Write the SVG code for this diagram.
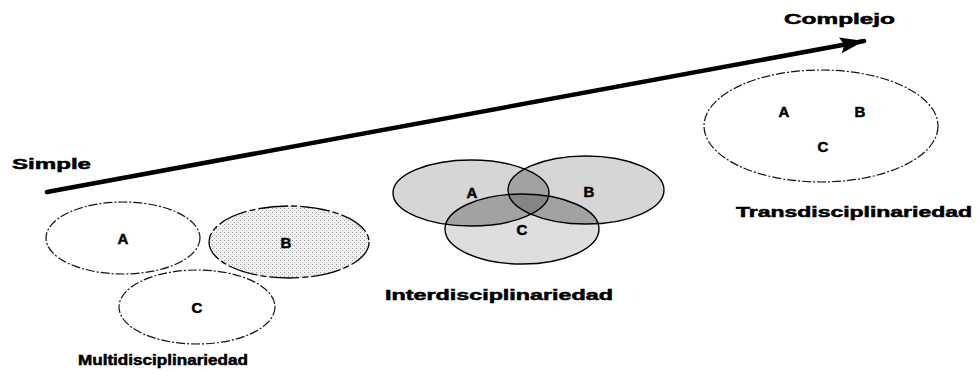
<svg xmlns="http://www.w3.org/2000/svg" width="978" height="371" viewBox="0 0 978 371">
<style>
.t{font-family:"Liberation Sans",Arial,sans-serif;font-weight:bold;fill:#000;stroke:#000;stroke-width:0.5}
.lab{font-size:15px;text-anchor:middle}
.ttl{font-size:14px}
.dash{fill:none;stroke:#111;stroke-width:1.2;stroke-dasharray:9 2 2 2}
.ov{fill:none;stroke:#000;stroke-width:1.4}
</style>
<defs>
<pattern id="stip" width="4" height="4" patternUnits="userSpaceOnUse">
<rect width="4" height="4" fill="#f0f0f0"/>
<rect x="0" y="0" width="1" height="1" fill="#9a9a9a"/>
<rect x="2" y="2" width="1" height="1" fill="#b5b5b5"/>
</pattern>
<pattern id="sparse" width="9" height="9" patternUnits="userSpaceOnUse">
<rect width="9" height="9" fill="#fbfbfb"/>
<rect x="1" y="2" width="1" height="1" fill="#bbb"/>
<rect x="6" y="6" width="1" height="1" fill="#ccc"/>
</pattern>
<clipPath id="cA"><ellipse cx="471" cy="193" rx="78" ry="33"/></clipPath>
<clipPath id="cB"><ellipse cx="586" cy="190" rx="78" ry="34"/></clipPath>
<clipPath id="cC"><ellipse cx="522" cy="229" rx="77" ry="35"/></clipPath>
<marker id="ah" markerUnits="userSpaceOnUse" markerWidth="26" markerHeight="18" refX="24" refY="9" orient="auto">
<path d="M0,1 L24,9 L0,17 L4,9 Z" fill="#000"/>
</marker>
</defs>

<g id="connectors">
<line x1="47" y1="192" x2="864" y2="41" stroke="#000" stroke-width="4.5" stroke-linecap="round" marker-end="url(#ah)"/>
</g>

<g id="simple"><text class="t ttl" x="12" y="169" textLength="79" lengthAdjust="spacingAndGlyphs">Simple</text></g>
<g id="complejo"><text class="t ttl" x="784" y="24" textLength="111" lengthAdjust="spacingAndGlyphs">Complejo</text></g>

<g id="multi">
<g id="multi-A">
<ellipse class="dash" cx="123" cy="238" rx="77" ry="36"/>
<text class="t lab" x="123" y="244">A</text>
</g>
<g id="multi-B">
<ellipse cx="289" cy="242" rx="80" ry="36" fill="url(#stip)" stroke="#000" stroke-width="1.3" stroke-dasharray="30 3 6 3"/>
<text class="t lab" x="286" y="248">B</text>
</g>
<g id="multi-C">
<ellipse class="dash" cx="197" cy="307" rx="78" ry="37"/>
<text class="t lab" x="197" y="313">C</text>
</g>
<text class="t ttl" x="78" y="365" textLength="170" lengthAdjust="spacingAndGlyphs">Multidisciplinariedad</text>
</g>

<g id="inter">
<g id="inter-fills">
<ellipse cx="471" cy="193" rx="78" ry="33" fill="#d6d6d6"/>
<ellipse cx="586" cy="190" rx="78" ry="34" fill="#d6d6d6"/>
<ellipse cx="522" cy="229" rx="77" ry="35" fill="#dedede"/>
<g clip-path="url(#cA)"><ellipse cx="586" cy="190" rx="78" ry="34" fill="#a2a2a2"/><ellipse cx="522" cy="229" rx="77" ry="35" fill="#a2a2a2"/></g>
<g clip-path="url(#cB)"><ellipse cx="522" cy="229" rx="77" ry="35" fill="#a2a2a2"/></g>
<g clip-path="url(#cA)"><g clip-path="url(#cB)"><ellipse cx="522" cy="229" rx="77" ry="35" fill="#858585"/></g></g>
</g>
<g id="inter-A"><ellipse class="ov" cx="471" cy="193" rx="78" ry="33"/><text class="t lab" x="472" y="198">A</text></g>
<g id="inter-B"><ellipse class="ov" cx="586" cy="190" rx="78" ry="34"/><text class="t lab" x="589" y="197">B</text></g>
<g id="inter-C"><ellipse class="ov" cx="522" cy="229" rx="77" ry="35"/><text class="t lab" x="522" y="235">C</text></g>
<text class="t ttl" x="385" y="300" textLength="228" lengthAdjust="spacingAndGlyphs">Interdisciplinariedad</text>
</g>

<g id="trans">
<ellipse class="dash" cx="821" cy="126" rx="117" ry="56" fill="url(#sparse)"/>
<text class="t lab" x="784" y="117">A</text>
<text class="t lab" x="860" y="117">B</text>
<text class="t lab" x="823" y="152">C</text>
<text class="t ttl" x="736" y="217" textLength="236" lengthAdjust="spacingAndGlyphs">Transdisciplinariedad</text>
</g>
</svg>
